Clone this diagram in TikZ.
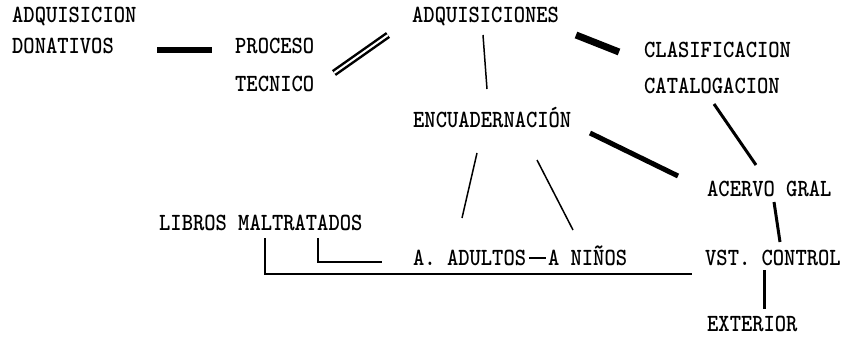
\documentclass[tikz,border=0pt]{standalone}
\usepackage{fontspec}
\usepackage{graphicx}
\newcommand\tx[1]{\scalebox{1}[1.15]{#1}}
\begin{document}
\begin{tikzpicture}[x=1pt,y=-1pt,
  lbl/.style={anchor=base west,inner sep=0pt,font=\fontsize{21.5}{24}\ttfamily\bfseries},
  thin/.style={line width=1.5pt,black},
  mid/.style={line width=3pt,black},
  bar/.style={line width=6pt,black},
  hatch/.style={line width=2.5pt,black,double=white,double distance=2pt}]
\useasboundingbox[fill=white] (0,0) rectangle (843,337);
\node[lbl] (adq1) at (12,23) {\tx{ADQUISICION}};
\node[lbl] (don) at (12,54) {\tx{DONATIVOS}};
\node[lbl] (pro) at (235,54) {\tx{PROCESO}};
\node[lbl] (tec) at (235,92) {\tx{TECNICO}};
\node[lbl] (adqs) at (412,23) {\tx{ADQUISICIONES}};
\node[lbl] (cla) at (644,58) {\tx{CLASIFICACION}};
\node[lbl] (cat) at (644,93) {\tx{CATALOGACION}};
\node[lbl] (enc) at (413,127) {\tx{ENCUADERNACIÓN}};
\node[lbl] (ace) at (707,196) {\tx{ACERVO GRAL}};
\node[lbl] (vst) at (705,265) {\tx{VST. CONTROL}};
\node[lbl] (ext) at (707,331) {\tx{EXTERIOR}};
\node[lbl] (lib) at (159,230) {\tx{LIBROS MALTRATADOS}};
\node[lbl] (adu) at (413,265) {\tx{A. ADULTOS\hspace{3pt}\rule[5pt]{17pt}{1.6pt}\hspace{2pt}A NIÑOS}};
% connectors
\draw[bar] ([shift={(145,-4)}]don.base west) -- ([shift={(-23,-4)}]pro.base west);
\draw[hatch] ([shift={(99,19)}]pro.base west) -- ([shift={(-24,12)}]adqs.base west);
\draw[bar,line width=7pt] ([shift={(164,12)}]adqs.base west) -- ([shift={(-25,-6)}]cla.base west);
\draw[thin] ([shift={(71,12)}]adqs.base west) -- ([shift={(74,-38)}]enc.base west);
\draw[bar,line width=5pt] ([shift={(177,6)}]enc.base west) -- ([shift={(-29,-20)}]ace.base west);
\draw[mid] ([shift={(70,11)}]cat.base west) -- ([shift={(49,-31)}]ace.base west);
\draw[thin] ([shift={(64,26)}]enc.base west) -- ([shift={(49,-47)}]adu.base west);
\draw[thin] ([shift={(124,33)}]enc.base west) -- ([shift={(160,-35)}]adu.base west);
\draw[mid] ([shift={(67,6)}]ace.base west) -- ([shift={(75,-23)}]vst.base west);
\draw[mid] ([shift={(59,5)}]vst.base west) -- ([shift={(57,-22)}]ext.base west);
\draw[thin] ([shift={(159,8)}]lib.base west) |- ([shift={(-31,-3)}]adu.base west);
\draw[thin] ([shift={(106,8)}]lib.base west) |- ([shift={(-13,9)}]vst.base west);
\end{tikzpicture}
\end{document}
